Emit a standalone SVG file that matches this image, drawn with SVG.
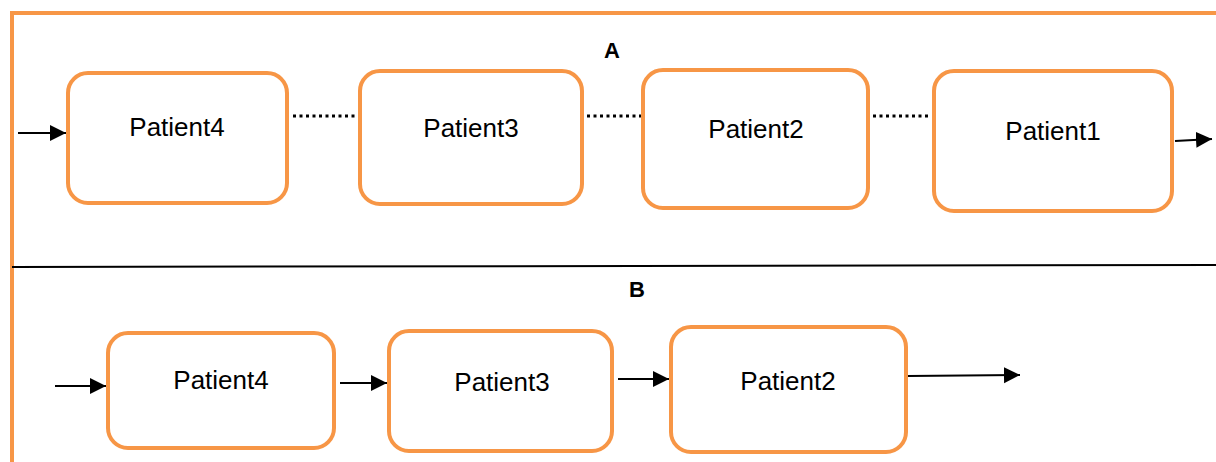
<svg xmlns="http://www.w3.org/2000/svg" width="1216" height="462" viewBox="0 0 1216 462">
<style>
.box{fill:#fff;stroke:#F79646;stroke-width:4}
.lbl{font-family:"Liberation Sans",Arial,sans-serif;font-size:26px;fill:#000;text-anchor:middle}
.hdr{font-family:"Liberation Sans",Arial,sans-serif;font-size:22px;font-weight:bold;fill:#000;text-anchor:middle}
.arr{stroke:#000;stroke-width:2;fill:none;marker-end:url(#ah)}
.dot{stroke:#000;stroke-width:3;stroke-dasharray:3 3.5;fill:none}
</style>
<defs>
<marker id="ah" markerWidth="9" markerHeight="9" refX="8" refY="4" orient="auto" markerUnits="strokeWidth">
<path d="M0,0 L8,4 L0,8 Z" fill="#000"/>
</marker>
</defs>
<rect width="1216" height="462" fill="#fff"/>
<path d="M12,462 V13 H1216" fill="none" stroke="#F79646" stroke-width="4"/>
<line x1="12" y1="267" x2="1216" y2="265" stroke="#000" stroke-width="2"/>
<text class="hdr" x="612" y="58">A</text>
<text class="hdr" x="637" y="297">B</text>
<g id="a-p4"><rect class="box" x="68" y="73" width="219" height="130" rx="20"/><text class="lbl" x="177" y="136">Patient4</text></g>
<g id="a-p3"><rect class="box" x="360" y="71" width="222" height="133" rx="20"/><text class="lbl" x="471" y="137">Patient3</text></g>
<g id="a-p2"><rect class="box" x="643" y="70" width="225" height="138" rx="20"/><text class="lbl" x="756" y="138">Patient2</text></g>
<g id="a-p1"><rect class="box" x="934" y="71" width="238" height="140" rx="20"/><text class="lbl" x="1053" y="140">Patient1</text></g>
<g id="b-p4"><rect class="box" x="108" y="333" width="226" height="115" rx="20"/><text class="lbl" x="221" y="389">Patient4</text></g>
<g id="b-p3"><rect class="box" x="389" y="331" width="223" height="120" rx="20"/><text class="lbl" x="502" y="391">Patient3</text></g>
<g id="b-p2"><rect class="box" x="671" y="327" width="235" height="125" rx="20"/><text class="lbl" x="788" y="390">Patient2</text></g>
<g id="connectors">
<line class="arr" x1="18" y1="133" x2="66" y2="133"/>
<line class="dot" x1="293" y1="116" x2="357" y2="116"/>
<line class="dot" x1="587" y1="116" x2="641" y2="116"/>
<line class="dot" x1="873" y1="116" x2="931" y2="116"/>
<line class="arr" x1="1175" y1="141" x2="1212" y2="139"/>
<line class="arr" x1="55" y1="386" x2="106" y2="386"/>
<line class="arr" x1="340" y1="383" x2="387" y2="383"/>
<line class="arr" x1="618" y1="379" x2="669" y2="379"/>
<line class="arr" x1="908" y1="376" x2="1020" y2="375"/>
</g>
</svg>
